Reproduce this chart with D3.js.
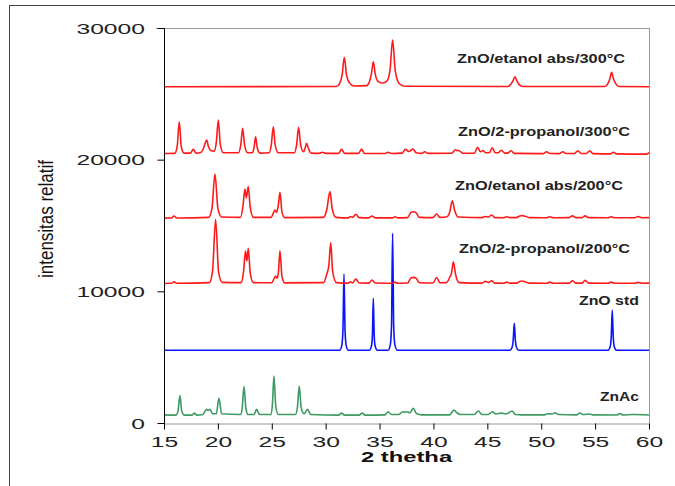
<!DOCTYPE html>
<html lang="en">
<head>
<meta charset="utf-8">
<style>
  body { margin: 0; background: white; }
  svg { font-family: 'Liberation Sans', Arial, sans-serif; }
  .pattern { fill: none; stroke-width: 1.6; stroke-linejoin: round; }
  .axis text { fill: #222; font-size: 14.5px; }
  .axis .domain { stroke: #000; }
  .axis line { stroke: #000; }
  .axis.x .domain { stroke: #999; }
  .frame { fill: none; stroke: #444; }
  .plotbox { stroke: #999; }
  .series-label { font-weight: bold; font-size: 12.5px; fill: #222; }
  .axis-title { font-weight: bold; font-size: 14px; fill: #111; }
</style>
</head>
<body>
<svg width="675" height="486"></svg>
<script src="https://cdn.jsdelivr.net/npm/d3@7"></script>
<script>
// tick values
const thetaTicks = [15, 20, 25, 30, 35, 40, 45, 50, 55, 60]
const intensityTicks = [0, 10000, 20000, 30000]

// series names (top to bottom in the legend text)
const seriesNames = ["ZnO/etanol abs/300°C", "ZnO/2-propanol/300°C", "ZnO/etanol abs/200°C",
                     "ZnO/2-propanol/200°C", "ZnO std", "ZnAc"]

// XRD patterns, [2theta, intensity]
const znAc = [[15,620],[16.1,600],[16.3,900],[16.48,2080],[16.65,900],[16.9,600],
  [17.6,600],[17.82,750],[18.05,600],
  [18.6,650],[18.96,1040],[19.1,950],[19.27,1040],[19.5,700],
  [19.85,700],[20.1,1870],[20.35,700],
  [22.1,650],[22.25,1100],[22.42,2760],[22.6,1100],[22.8,650],
  [23.35,650],[23.6,1040],[23.85,650],
  [24.9,650],[25.05,1300],[25.2,3570],[25.37,1300],[25.6,650],
  [27.2,650],[27.38,1200],[27.55,2810],[27.72,1200],[28.0,700],[28.32,1040],[28.6,650],
  [31.2,600],[31.47,750],[31.75,600],
  [33.1,600],[33.38,750],[33.65,600],
  [35.5,620],[35.8,860],[36.1,640],
  [36.8,650],[37.14,860],[37.3,820],[37.5,860],[37.8,780],[38.12,1110],[38.45,700],[38.9,620],
  [41.5,620],[41.9,980],[42.2,760],[42.5,650],
  [43.8,640],[44.16,910],[44.5,650],
  [45.1,650],[45.46,860],[45.8,680],[46.3,750],[46.7,680],[47.3,910],[47.6,650],[48.2,620],
  [50.3,620],[50.6,700],[51.0,680],[51.28,780],[51.6,640],
  [53.3,620],[53.6,760],[53.9,640],[54.5,680],[54.8,620],
  [57.0,610],[57.3,720],[57.6,610],[58.5,640],[60,610]]

const znoStd = [[15,5520],[31.3,5530],[31.5,5900],[31.6,7000],[31.7,11320],[31.8,7000],[31.9,5900],[32.1,5530],
  [34.05,5530],[34.25,5850],[34.34,6700],[34.42,9470],[34.5,6700],[34.59,5850],[34.8,5530],
  [35.8,5530],[36.0,5950],[36.11,7400],[36.21,14410],[36.31,7400],[36.42,5950],[36.65,5530],
  [47.1,5520],[47.3,5750],[47.4,6300],[47.5,7570],[47.6,6300],[47.7,5750],[47.9,5520],
  [56.2,5520],[56.4,5800],[56.5,6600],[56.59,8580],[56.68,6600],[56.78,5800],[57.0,5520],[60,5530]]

const propanol200 = [[15,10600],[15.7,10610],[15.93,10730],[16.2,10610],
  [19.2,10660],[19.5,11500],[19.79,15470],[20.06,11500],[20.4,10680],
  [22.15,10660],[22.38,11500],[22.56,13060],[22.69,12300],[22.82,13270],[23.0,11400],[23.3,10660],
  [25.0,10650],[25.2,10950],[25.36,11160],[25.5,11000],[25.62,11500],[25.76,13080],[25.95,11100],[26.2,10640],
  [29.8,10660],[30.1,11300],[30.3,12000],[30.47,13700],[30.65,11500],[31.0,10660],
  [32.1,10620],[32.3,10720],[32.5,10640],[32.8,10940],[33.1,10630],
  [34.0,10620],[34.3,10860],[34.6,10630],
  [36.2,10610],[36.43,10700],[36.7,10610],
  [37.6,10630],[37.9,11000],[38.13,11060],[38.4,10980],[38.7,10650],
  [39.95,10630],[40.3,11050],[40.6,10650],
  [41.2,10660],[41.5,11050],[41.68,11400],[41.85,12250],[42.05,11300],[42.4,10660],
  [44.5,10620],[44.8,10760],[45.1,10680],[45.4,10800],[45.7,10620],
  [46.5,10610],[46.8,10700],[47.1,10620],
  [47.7,10620],[48.0,10750],[48.2,10780],[48.5,10730],[48.9,10620],
  [50.5,10610],[50.8,10700],[51.1,10610],
  [52.6,10620],[52.9,10800],[53.2,10620],[53.8,10620],[54.06,10830],[54.4,10620],
  [56.2,10610],[56.5,10700],[56.8,10610],
  [58.7,10610],[59.0,10680],[59.4,10610],[60,10620]]

const etanol200 = [[15,15560],[15.7,15570],[15.93,15720],[16.2,15570],
  [19.15,15620],[19.45,16300],[19.73,18910],[20.0,16300],[20.35,15640],
  [22.1,15620],[22.33,16500],[22.51,17770],[22.64,17100],[22.82,17950],[23.0,16400],[23.3,15620],
  [24.95,15620],[25.15,15950],[25.3,16180],[25.45,16000],[25.6,16500],[25.76,17520],[25.95,16000],[26.2,15600],
  [29.8,15620],[30.1,16200],[30.4,17570],[30.6,16300],[30.95,15620],
  [32.1,15580],[32.32,15680],[32.5,15620],[32.8,15850],[33.1,15600],
  [34.0,15580],[34.3,15720],[34.6,15580],
  [36.2,15580],[36.43,15660],[36.7,15580],
  [37.6,15600],[37.9,15980],[38.13,16050],[38.4,15960],[38.7,15620],
  [39.95,15600],[40.3,15870],[40.6,15620],
  [41.2,15640],[41.5,15980],[41.75,16880],[41.95,16200],[42.3,15640],
  [44.5,15600],[44.8,15680],[45.1,15640],[45.4,15800],[45.7,15600],
  [46.5,15590],[46.8,15660],[47.1,15600],
  [47.7,15600],[48.0,15720],[48.2,15750],[48.5,15700],[48.9,15600],
  [50.5,15590],[50.8,15670],[51.1,15590],
  [52.6,15600],[52.9,15730],[53.2,15600],[53.8,15600],[54.06,15730],[54.4,15600],
  [56.2,15590],[56.5,15660],[56.8,15590],
  [58.7,15590],[59.0,15680],[59.4,15590],[60,15600]]

const propanol300 = [[15,20470],[16.0,20480],[16.22,21000],[16.42,22880],[16.6,21000],[16.85,20500],
  [17.45,20500],[17.72,20790],[17.95,20500],
  [18.4,20550],[18.7,20950],[18.82,21250],[18.96,21490],[19.12,21000],[19.35,20700],
  [19.65,20650],[19.85,21300],[20.04,23010],[20.22,21200],[20.5,20520],
  [21.9,20520],[22.12,21100],[22.3,22380],[22.48,21100],[22.75,20520],
  [23.2,20520],[23.35,20900],[23.5,21740],[23.65,20900],[23.9,20500],
  [24.75,20520],[24.95,21100],[25.14,22500],[25.32,21100],[25.6,20520],
  [27.1,20520],[27.3,21100],[27.49,22460],[27.68,21100],[27.95,20600],[28.1,20900],[28.23,21240],[28.38,20900],[28.65,20500],
  [29.4,20480],[29.7,20560],[30.0,20480],
  [31.2,20480],[31.48,20790],[31.75,20480],
  [33.05,20480],[33.33,20800],[33.6,20470],
  [35.5,20470],[35.8,20560],[36.1,20470],
  [37.1,20500],[37.4,20790],[37.7,20620],[38.1,20800],[38.4,20520],
  [38.9,20480],[39.2,20600],[39.5,20480],
  [41.7,20490],[42.05,20750],[42.2,20680],[42.35,20700],[42.7,20490],
  [43.8,20490],[44.1,20940],[44.35,20600],[44.6,20700],[44.85,20520],[45.2,20540],[45.45,20900],[45.75,20520],
  [46.0,20520],[46.3,20720],[46.6,20500],[46.9,20500],[47.2,20680],[47.5,20480],
  [50.2,20460],[50.5,20600],[50.8,20470],
  [51.7,20460],[52.0,20600],[52.3,20470],
  [53.1,20470],[53.4,20680],[53.7,20470],[54.2,20470],[54.5,20680],[54.8,20460],
  [56.4,20440],[56.7,20560],[57.0,20440],
  [59.5,20420],[59.85,20440],[60,20550]]

const etanol300 = [[15,25540],[31.0,25560],[31.3,25800],[31.52,26400],[31.73,27770],[31.94,26400],[32.2,25850],[32.6,25600],
  [33.8,25620],[34.05,25900],[34.24,26500],[34.42,27440],[34.6,26500],[34.85,25950],[35.3,25820],
  [35.7,26000],[35.97,26800],[36.21,29090],[36.45,26800],[36.8,25800],[37.3,25580],
  [46.9,25560],[47.2,25750],[47.38,25980],[47.56,26300],[47.74,25980],[47.95,25700],[48.3,25560],
  [55.9,25560],[56.2,25800],[56.37,26150],[56.53,26630],[56.7,26150],[56.9,25800],[57.2,25560],[60,25540]]

// drawing order: bottom pattern first
const patterns = [znAc, znoStd, propanol200, etanol200, propanol300, etanol300]
const patternColors = ["#3d9a62", "#0a14ff", "#ff1a1a", "#ff1a1a", "#ff1a1a", "#ff1a1a"]

// where each name sits: [2theta, intensity] of its start, and its width in px
const labelAt = [[42.19, 27340, 168], [42.28, 21760, 172], [42.0, 17660, 168],
                 [42.37, 12930, 171], [53.5, 8960, 60], [55.45, 1670, 39]]

const svg = d3.select("svg")
const plotLeft = 164, plotRight = 649, plotTop = 28, plotBottom = 423
const stretch = 1.7  // the original picture is squeezed wide

const x = d3.scaleLinear().domain([15, 60]).range([plotLeft, plotRight])
const y = d3.scaleLinear().domain([0, 30000]).range([plotBottom, plotTop])

// outer frame runs off the bottom and right of the picture
svg.append("rect").attr("class", "frame")
  .attr("x", 9.5).attr("y", 5.5).attr("width", 700).attr("height", 500)

// grey box round the plot
svg.append("line").attr("class", "plotbox")
  .attr("x1", plotLeft - 8).attr("x2", plotRight).attr("y1", y(30000) + 0.5).attr("y2", y(30000) + 0.5)
svg.append("line").attr("class", "plotbox")
  .attr("x1", plotRight + 0.5).attr("x2", plotRight + 0.5).attr("y1", plotTop).attr("y2", plotBottom)

const line = d3.line()
  .x(d => x(d[0]))
  .y(d => y(d[1]))
  .curve(d3.curveMonotoneX)

svg.append("g").selectAll("path")
  .data(patterns)
  .join("path")
  .attr("class", "pattern")
  .attr("stroke", (d, i) => patternColors[i])
  .attr("d", line)

const xAxis = d3.axisBottom(x).tickValues(thetaTicks).tickSize(6).tickSizeOuter(0)
const gx = svg.append("g")
  .attr("class", "axis x")
  .attr("transform", "translate(0," + (plotBottom + 0.5) + ")")
  .call(xAxis)
gx.selectAll(".tick text")
  .attr("y", null).attr("dy", null)
  .attr("transform", "translate(0,23.5) scale(" + stretch + ",1)")

const yAxis = d3.axisLeft(y).tickValues(intensityTicks).tickFormat(d3.format("d"))
  .tickSize(7).tickSizeOuter(0)
const gy = svg.append("g")
  .attr("class", "axis y")
  .attr("transform", "translate(" + (plotLeft + 0.5) + ",0)")
  .call(yAxis)
gy.selectAll(".tick line")
  .attr("stroke", d => (d === 0 || d === 30000) ? "#999" : "#000")
gy.selectAll(".tick text")
  .attr("x", null).attr("dy", null)
  .attr("transform", "translate(-19.5,5) scale(" + stretch + ",1)")
gy.select(".domain").attr("d", "M0," + plotTop + "V" + (plotBottom + 6))

// series names
svg.append("g").selectAll("text")
  .data(seriesNames)
  .join("text")
  .attr("class", "series-label")
  .attr("x", (d, i) => x(labelAt[i][0]))
  .attr("y", (d, i) => y(labelAt[i][1]))
  .attr("textLength", (d, i) => labelAt[i][2])
  .attr("lengthAdjust", "spacingAndGlyphs")
  .text(d => d)

// axis titles
svg.append("text")
  .attr("class", "axis-title")
  .attr("text-anchor", "middle")
  .attr("transform", "translate(" + ((plotLeft + plotRight) / 2) + ",461.5) scale(" + stretch + ",1)")
  .text("2 thetha")

svg.append("text")
  .attr("transform", "translate(53,278) rotate(-90)")
  .attr("font-size", 20)
  .attr("fill", "#111")
  .attr("textLength", 118)
  .attr("lengthAdjust", "spacingAndGlyphs")
  .text("intensitas relatif")
</script>
</body>
</html>
